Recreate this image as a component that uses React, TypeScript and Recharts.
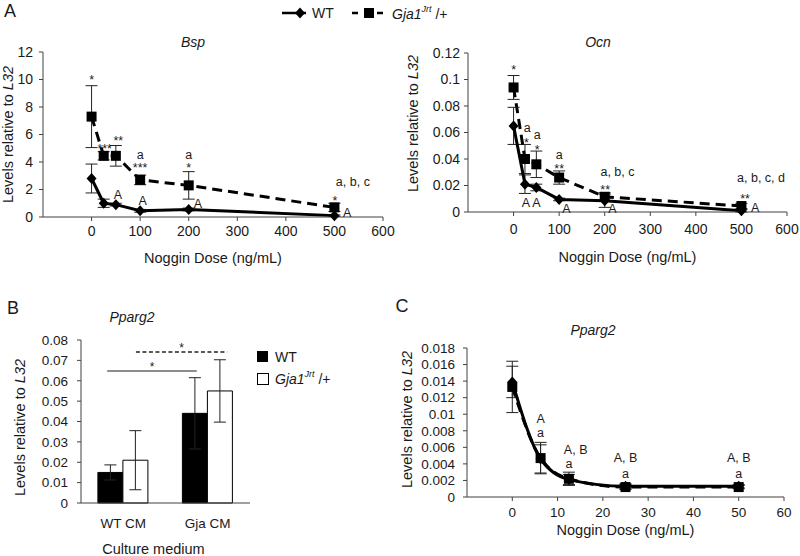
import React from "react";
import {
  ComposedChart,
  Line,
  Scatter,
  Bar,
  XAxis,
  YAxis,
  ErrorBar,
  ReferenceLine,
} from "recharts";

const FONT = '"Liberation Sans", Arial, sans-serif';
const INK = "#1a1a1a";
const AXIS = "#404040";

// ---- Panel A: Bsp ----
const doseA = [0, 25, 50, 100, 200, 500];
const bspWT = [2.8, 1.0, 0.9, 0.45, 0.55, 0.1];
const bspWTErr = [1.05, 0.3, 0.1, 0.1, 0.1, 0.05];
const bspGja = [7.3, 4.45, 4.45, 2.7, 2.3, 0.7];
const bspGjaErr = [2.25, 0.3, 0.75, 0.35, 1.0, 0.3];
const bspNotes = [
  { x: 0, y: 10.2, t: "*" },
  { x: 27, y: 5.2, t: "***" },
  { x: 55, y: 5.8, t: "**" },
  { x: 100, y: 4.5, t: "a" },
  { x: 100, y: 3.8, t: "***" },
  { x: 200, y: 4.5, t: "a" },
  { x: 200, y: 3.85, t: "*" },
  { x: 538, y: 2.5, t: "a, b, c" },
  { x: 501, y: 1.4, t: "*" },
  { x: 54, y: 1.65, t: "A" },
  { x: 105, y: 1.2, t: "A" },
  { x: 219, y: 1.0, t: "A" },
  { x: 526, y: 0.36, t: "A" },
];

// ---- Panel A: Ocn ----
const ocnWT = [0.065, 0.021, 0.0185, 0.0095, 0.0085, 0.001];
const ocnWTErr = [0.014, 0.007, 0.0025, 0.001, 0.005, 0.001];
const ocnGja = [0.094, 0.04, 0.036, 0.026, 0.0115, 0.0045];
const ocnGjaErr = [0.009, 0.011, 0.01, 0.005, 0.003, 0.002];
const ocnNotes = [
  { x: 0, y: 0.1097, t: "*" },
  { x: 30, y: 0.063, t: "a" },
  { x: 28, y: 0.055, t: "*" },
  { x: 52, y: 0.058, t: "a" },
  { x: 52, y: 0.0498, t: "*" },
  { x: 100, y: 0.043, t: "a" },
  { x: 100, y: 0.0354, t: "**" },
  { x: 228, y: 0.0295, t: "a, b, c" },
  { x: 201, y: 0.019, t: "**" },
  { x: 543, y: 0.0255, t: "a, b, c, d" },
  { x: 508, y: 0.0128, t: "**" },
  { x: 27, y: 0.0068, t: "A" },
  { x: 50, y: 0.0068, t: "A" },
  { x: 116, y: 0.003, t: "A" },
  { x: 217, y: 0.0023, t: "A" },
  { x: 530, y: 0.0035, t: "A" },
];

const doseTicksA = [0, 100, 200, 300, 400, 500, 600];
const bspTicks = [0, 2, 4, 6, 8, 10, 12];
const ocnTicks = [0, 0.02, 0.04, 0.06, 0.08, 0.1, 0.12];

// ---- Panel B: Pparg2, culture medium ----
const media = ["WT CM", "Gja CM"];
const cmWT = [0.015, 0.044];
const cmWTErr = [0.0037, 0.0175];
const cmGja = [0.021, 0.055];
const cmGjaErr = [0.0145, 0.0153];
const cmTicks = [0, 0.01, 0.02, 0.03, 0.04, 0.05, 0.06, 0.07, 0.08];
// significance brackets, along the medium axis (0..2, one unit per medium)
const sigFrom = [0.31, 0.65];
const sigTo = [1.37, 1.73];
const sigLevel = [0.0648, 0.0741];
const sigText = ["*", "*"];

// ---- Panel C: Pparg2, noggin ----
const doseC = [0, 6.25, 12.5, 25, 50];
const ppWT = [0.0139, 0.0046, 0.0021, 0.0013, 0.0013];
const ppWTErr = [0.0019, 0.0017, 0.0006, 0.0003, 0.0002];
const ppGja = [0.0133, 0.0047, 0.0022, 0.0012, 0.0012];
const ppGjaErr = [0.0031, 0.0019, 0.0008, 0.0003, 0.0002];
const ppNotes = [
  { x: 6.25, y: 0.0095, t: "A" },
  { x: 6.25, y: 0.0077, t: "a" },
  { x: 14, y: 0.0057, t: "A, B" },
  { x: 12.5, y: 0.0039, t: "a" },
  { x: 25, y: 0.0048, t: "A, B" },
  { x: 25, y: 0.0027, t: "a" },
  { x: 50, y: 0.0048, t: "A, B" },
  { x: 50, y: 0.0027, t: "a" },
];
const doseTicksC = [0, 10, 20, 30, 40, 50, 60];
const ppTicks = [0, 0.002, 0.004, 0.006, 0.008, 0.01, 0.012, 0.014, 0.016, 0.018];

const Diamond = ({ cx, cy }: any) =>
  cx == null ? null : (
    <polygon
      points={`${cx},${cy - 5.5} ${cx + 5},${cy} ${cx},${cy + 5.5} ${cx - 5},${cy}`}
      fill="#000"
    />
  );

const Square = ({ cx, cy }: any) =>
  cx == null ? null : <rect x={cx - 5} y={cy - 5} width={10} height={10} fill="#000" />;

const Note = (p: any) => {
  const { cx, cy, payload } = p;
  if (cx == null) return null;
  const t: string = payload.t;
  const k = /^\*+$/.test(t) ? 0.6 : /[A-Z]/.test(t) ? 0.36 : 0.28;
  return (
    <text x={cx} y={cy + k * 12.5} textAnchor="middle" fontSize={12.5} fontFamily={FONT} fill={INK}>
      {t}
    </text>
  );
};

const YTitle = ({ viewBox, x, dy = 0 }: any) => {
  const cy = viewBox.y + viewBox.height / 2 + dy;
  return (
    <text
      x={x}
      y={cy}
      transform={`rotate(-90 ${x} ${cy})`}
      textAnchor="middle"
      dominantBaseline="central"
      fontSize={14.5}
      fontFamily={FONT}
      fill={INK}
    >
      Levels relative to <tspan fontStyle="italic">L32</tspan>
    </text>
  );
};

const XTitle = ({ viewBox, text, dy, dx = 0 }: any) => (
  <text
    x={viewBox.x + viewBox.width / 2 + dx}
    y={viewBox.y + dy}
    textAnchor="middle"
    dominantBaseline="central"
    fontSize={14.5}
    fontFamily={FONT}
    fill={INK}
  >
    {text}
  </text>
);

const GjaLabel = ({ x, y }: any) => (
  <text x={x} y={y} fontSize={14} fontFamily={FONT} fill={INK} dominantBaseline="central">
    <tspan fontStyle="italic">Gja1</tspan>
    <tspan fontStyle="italic" fontSize={9} dy={-5}>
      Jrt
    </tspan>
    <tspan dy={5}> /+</tspan>
  </text>
);

function DoseChart(props: any) {
  const {
    data, notes, width, height, margin, yWidth, xDomain, xTicks, yDomain, yTicks,
    xTickMargin, yTickMargin, yTitleX, yTitleDy, xTitleDy, curve, fontSize,
  } = props;
  const tick = { fill: INK, fontSize, fontFamily: FONT };
  return (
    <ComposedChart width={width} height={height} data={data} margin={margin}>
      <XAxis
        type="number"
        dataKey="x"
        domain={xDomain}
        ticks={xTicks}
        tick={tick}
        stroke={AXIS}
        tickSize={4}
        tickMargin={xTickMargin}
        height={height - margin.top - margin.bottom - props.plotHeight}
        label={(p: any) => <XTitle viewBox={p.viewBox} text="Noggin Dose (ng/mL)" dy={xTitleDy} />}
      />
      <YAxis
        type="number"
        domain={yDomain}
        ticks={yTicks}
        tick={tick}
        stroke={AXIS}
        tickSize={4}
        tickMargin={yTickMargin}
        width={yWidth}
        interval={0}
        label={(p: any) => <YTitle viewBox={p.viewBox} x={yTitleX} dy={yTitleDy} />}
      />
      <Line
        dataKey="gja"
        type={curve}
        stroke="#000"
        strokeWidth={3}
        strokeDasharray="10 6"
        dot={(p: any) => <Square key={p.index} cx={p.cx} cy={p.cy} />}
        activeDot={false}
        isAnimationActive={false}
      >
        <ErrorBar dataKey="gjaErr" width={6} stroke="#222" strokeWidth={1} direction="y" />
      </Line>
      <Line
        dataKey="wt"
        type={curve}
        stroke="#000"
        strokeWidth={3}
        dot={(p: any) => <Diamond key={p.index} cx={p.cx} cy={p.cy} />}
        activeDot={false}
        isAnimationActive={false}
      >
        <ErrorBar dataKey="wtErr" width={6} stroke="#222" strokeWidth={1} direction="y" />
      </Line>
      {notes && <Scatter data={notes} dataKey="y" shape={Note} isAnimationActive={false} />}
    </ComposedChart>
  );
}

const abs = (left: number, top: number): React.CSSProperties => ({ position: "absolute", left, top });

const Text = ({ x, y, size = 14, italic = false, children }: any) => (
  <div
    style={{
      position: "absolute",
      left: x,
      top: y,
      transform: "translate(-50%, -50%)",
      fontFamily: FONT,
      fontSize: size,
      fontStyle: italic ? "italic" : "normal",
      color: INK,
      whiteSpace: "nowrap",
      lineHeight: 1,
    }}
  >
    {children}
  </div>
);

export default function App() {
  const bspData = doseA.map((x, i) => ({ x, wt: bspWT[i], wtErr: bspWTErr[i], gja: bspGja[i], gjaErr: bspGjaErr[i] }));
  const ocnData = doseA.map((x, i) => ({ x, wt: ocnWT[i], wtErr: ocnWTErr[i], gja: ocnGja[i], gjaErr: ocnGjaErr[i] }));
  const ppData = doseC.map((x, i) => ({ x, wt: ppWT[i], wtErr: ppWTErr[i], gja: ppGja[i], gjaErr: ppGjaErr[i] }));
  // each medium sits in the middle of its unit slot on a 0..2 axis
  const cmData = media.map((m, i) => ({ pos: i + 0.5, m, wt: cmWT[i], wtErr: cmWTErr[i], gja: cmGja[i], gjaErr: cmGjaErr[i] }));
  const tickB = { fill: INK, fontSize: 13.5, fontFamily: FONT };

  return (
    <div style={{ position: "absolute", left: 0, top: 0, width: 800, height: 556, background: "#fff", overflow: "hidden" }}>
      {/* panel letters and titles */}
      <Text x={10} y={11} size={18}>A</Text>
      <Text x={13} y={308} size={18}>B</Text>
      <Text x={402} y={306} size={18}>C</Text>
      <Text x={193} y={42} italic>Bsp</Text>
      <Text x={598} y={42} italic>Ocn</Text>
      <Text x={132} y={317} italic>Pparg2</Text>
      <Text x={593} y={330} italic>Pparg2</Text>

      {/* shared legend for panel A */}
      <svg style={abs(270, 0)} width={200} height={28}>
        <line x1={12} y1={13} x2={36} y2={13} stroke="#000" strokeWidth={2.5} />
        <Diamond cx={30} cy={13} />
        <text x={42} y={13} fontSize={14} fontFamily={FONT} fill={INK} dominantBaseline="central">WT</text>
        <line x1={82} y1={13} x2={88} y2={13} stroke="#000" strokeWidth={2.5} />
        <Square cx={99} cy={13} />
        <line x1={107} y1={13} x2={113} y2={13} stroke="#000" strokeWidth={2.5} />
        <GjaLabel x={122} y={14} />
      </svg>

      <div style={abs(0, 30)}>
        <DoseChart
          data={bspData}
          notes={bspNotes}
          width={400}
          height={240}
          margin={{ top: 22, right: 17, left: 0, bottom: 3 }}
          plotHeight={165}
          yWidth={43}
          xDomain={[-100, 600]}
          xTicks={doseTicksA}
          yDomain={[0, 12]}
          yTicks={bspTicks}
          fontSize={14}
          xTickMargin={5}
          yTickMargin={6}
          yTitleX={8}
          yTitleDy={0}
          xTitleDy={41}
          curve="linear"
        />
      </div>

      <div style={abs(400, 30)}>
        <DoseChart
          data={ocnData}
          notes={ocnNotes}
          width={400}
          height={240}
          margin={{ top: 23, right: 13, left: 0, bottom: 0 }}
          plotHeight={159}
          yWidth={68}
          xDomain={[-100, 600]}
          xTicks={doseTicksA}
          yDomain={[0, 0.12]}
          yTicks={ocnTicks}
          fontSize={14}
          xTickMargin={8}
          yTickMargin={4}
          yTitleX={13}
          yTitleDy={-9}
          xTitleDy={45}
          curve="linear"
        />
      </div>

      <div style={abs(0, 300)}>
        <ComposedChart
          width={340}
          height={256}
          data={cmData}
          margin={{ top: 40, right: 90, left: 0, bottom: 0 }}
          barCategoryGap="20%"
          barGap={0}
        >
          <XAxis
            type="number"
            dataKey="pos"
            domain={[0, 2]}
            ticks={cmData.map((d) => d.pos)}
            tickFormatter={(v: number) => media[Math.floor(v)]}
            tick={tickB}
            stroke={AXIS}
            tickLine={false}
            tickMargin={9}
            height={53}
            label={(p: any) => <XTitle viewBox={p.viewBox} text="Culture medium" dy={46} dx={-12} />}
          />
          <YAxis
            type="number"
            domain={[0, 0.08]}
            ticks={cmTicks}
            tick={tickB}
            stroke={AXIS}
            tickSize={4}
            tickMargin={9}
            width={81}
            interval={0}
            label={(p: any) => <YTitle viewBox={p.viewBox} x={20} dy={6} />}
          />
          <Bar dataKey="wt" fill="#000" stroke="#000" strokeWidth={1} isAnimationActive={false}>
            <ErrorBar dataKey="wtErr" width={6} stroke="#222" strokeWidth={1} direction="y" />
          </Bar>
          <Bar dataKey="gja" fill="#fff" stroke="#000" strokeWidth={1} isAnimationActive={false}>
            <ErrorBar dataKey="gjaErr" width={6} stroke="#222" strokeWidth={1} direction="y" />
          </Bar>
          {sigFrom.map((from, i) => (
            <ReferenceLine
              key={i}
              segment={[
                { x: from, y: sigLevel[i] },
                { x: sigTo[i], y: sigLevel[i] },
              ]}
              stroke={i === 0 ? "#666" : "#222"}
              strokeWidth={i === 0 ? 1.5 : 1.3}
              strokeDasharray={i === 0 ? undefined : "4 2.5"}
              ifOverflow="visible"
              label={{ value: sigText[i], position: "top", offset: 0, fontSize: 12, fill: INK, fontFamily: FONT }}
            />
          ))}
        </ComposedChart>
      </div>

      {/* legend for panel B */}
      <svg style={abs(250, 340)} width={100} height={50}>
        <rect x={7} y={11} width={11} height={11} fill="#000" />
        <text x={25} y={17} fontSize={14} fontFamily={FONT} fill={INK} dominantBaseline="central">WT</text>
        <rect x={7.5} y={33.5} width={11} height={11} fill="#fff" stroke="#000" />
        <GjaLabel x={25} y={39} />
      </svg>

      <div style={abs(390, 300)}>
        <DoseChart
          data={ppData}
          notes={ppNotes}
          width={410}
          height={245}
          margin={{ top: 48, right: 16, left: 10, bottom: 0 }}
          plotHeight={149}
          yWidth={67}
          xDomain={[-10, 60]}
          xTicks={doseTicksC}
          yDomain={[0, 0.018]}
          yTicks={ppTicks}
          fontSize={13.5}
          xTickMargin={6}
          yTickMargin={8}
          yTitleX={17}
          yTitleDy={-3}
          xTitleDy={33}
          curve="monotone"
        />
      </div>
    </div>
  );
}
